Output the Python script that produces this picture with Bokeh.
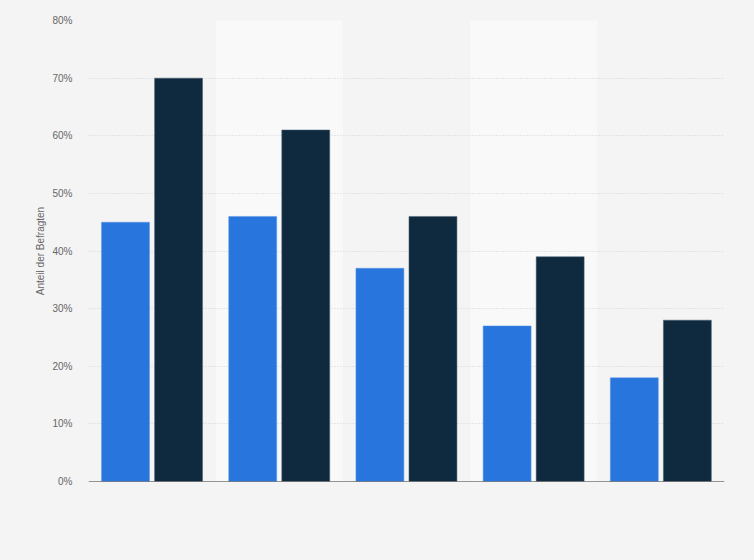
from bokeh.plotting import figure
from bokeh.models import Range1d, FactorRange, FixedTicker, PrintfTickFormatter, ColumnDataSource, Span
from bokeh.transform import dodge
from bokeh.embed import file_html
from bokeh.resources import INLINE

categories = ["1", "2", "3", "4", "5"]
series_a = [45, 46, 37, 27, 18]
series_b = [70, 61, 46, 39, 28]
y_ticks = [0, 10, 20, 30, 40, 50, 60, 70, 80]
y_label = "Anteil der Befragten"

BG = "#f4f4f4"
FONT = "Liberation Sans"

p = figure(width=754, height=560, output_backend="svg", toolbar_location=None,
           x_range=FactorRange(*categories), y_range=Range1d(0, 80),
           min_border_left=88, min_border_right=30, min_border_top=20, min_border_bottom=79)
p.background_fill_color = BG
p.border_fill_color = BG
p.outline_line_color = None

band_src = ColumnDataSource(dict(cat=[c for i, c in enumerate(categories) if i % 2 == 1],
                                 top=[80] * (len(categories) // 2)))
band = p.vbar(x="cat", top="top", bottom=0, width=1.0, source=band_src,
              fill_color="#f9f9f9", line_color=None)
band.level = "image"

src = ColumnDataSource(dict(cat=categories, a=series_a, b=series_b))
p.vbar(x=dodge("cat", -0.209, range=p.x_range), top="a", width=0.377, source=src,
       fill_color="#2876dd", line_color="#5a95e6", line_width=0.5)
p.vbar(x=dodge("cat", 0.208, range=p.x_range), top="b", width=0.377, source=src,
       fill_color="#0f2a3f", line_color="#4a6075", line_width=0.5)

p.xgrid.grid_line_color = None
p.ygrid.grid_line_color = "#d3d3d3"
p.ygrid.grid_line_dash = "1 2"
p.ygrid.ticker = FixedTicker(ticks=y_ticks)

yax = p.yaxis[0]
yax.ticker = FixedTicker(ticks=y_ticks)
yax.formatter = PrintfTickFormatter(format="%d%%")
yax.axis_line_color = None
yax.major_tick_line_color = None
yax.minor_tick_line_color = None
yax.major_tick_out = 0
yax.minor_tick_out = 0
yax.major_label_text_font = FONT
yax.major_label_text_font_size = "10px"
yax.major_label_text_color = "#666666"
yax.major_label_standoff = 16
yax.axis_label = y_label
yax.axis_label_text_font = FONT
yax.axis_label_text_font_size = "10px"
yax.axis_label_text_font_style = "normal"
yax.axis_label_text_color = "#666666"
yax.axis_label_standoff = 3

p.xaxis.visible = False
p.add_layout(Span(location=0, dimension="width", line_color="#333333", line_width=1))

html = file_html(p, INLINE)
html = html.replace("<body>", '<body style="background:#f4f4f4">')
open("out.html", "w").write(html)
